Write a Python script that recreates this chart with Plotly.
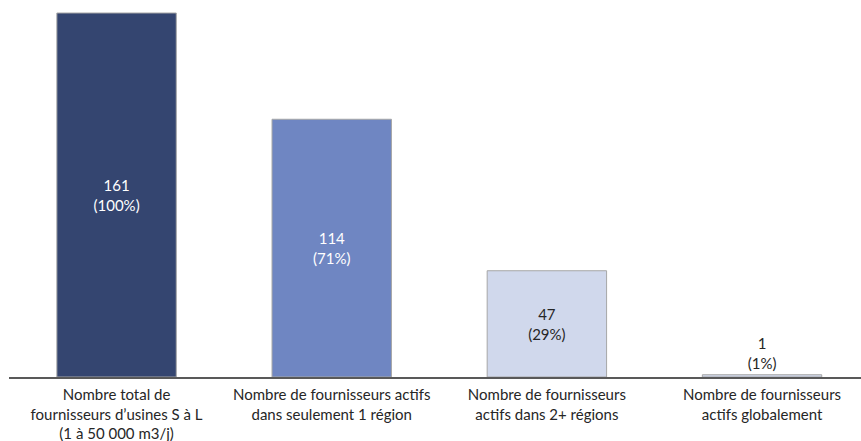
import plotly.graph_objects as go

categories = [
    "Nombre total de<br>fournisseurs d\u2019usines S à L<br>(1 à 50 000 m3/j)",
    "Nombre de fournisseurs actifs<br>dans seulement 1 région",
    "Nombre de fournisseurs<br>actifs dans 2+ régions",
    "Nombre de fournisseurs<br>actifs globalement",
]
values = [161, 114, 47, 1]
shares = ["100%", "71%", "29%", "1%"]

bar_colors = ["#344570", "#6f86c2", "#d0d8ec", "#d0d8ec"]
text_colors = ["#ffffff", "#ffffff", "#262626", "#262626"]
text_positions = ["inside", "inside", "inside", "outside"]

labels = [f"{v}<br>({s})" for v, s in zip(values, shares)]
x = list(range(len(values)))

FONT = "Lato, sans-serif"

fig = go.Figure(
    go.Bar(
        x=x,
        y=values,
        width=0.555,
        marker=dict(color=bar_colors, line=dict(color="#a6a6a6", width=1)),
        text=labels,
        textposition=text_positions,
        insidetextanchor="middle",
        textfont=dict(family=FONT, size=15, color=text_colors),
        outsidetextfont=dict(family=FONT, size=15, color="#262626"),
        cliponaxis=False,
        constraintext="none",
        hoverinfo="skip",
    )
)

fig.update_layout(
    width=861,
    height=441,
    margin=dict(l=9, r=0, t=0, b=64),
    paper_bgcolor="white",
    plot_bgcolor="white",
    showlegend=False,
    uniformtext=dict(minsize=15, mode="show"),
    font=dict(family=FONT, size=15, color="#262626"),
)
fig.update_xaxes(
    range=[-0.5, 3.46],
    tickmode="array",
    tickvals=x,
    ticktext=categories,
    showline=True,
    linecolor="#595959",
    linewidth=2,
    ticks="",
    showgrid=False,
    zeroline=False,
    automargin=False,
    ticklabelstandoff=3,
    tickfont=dict(family=FONT, size=15, color="#262626"),
)
fig.update_yaxes(
    range=[0, 161 * 377 / 364],
    visible=False,
    showgrid=False,
    zeroline=False,
)

fig.write_html("out.html")
